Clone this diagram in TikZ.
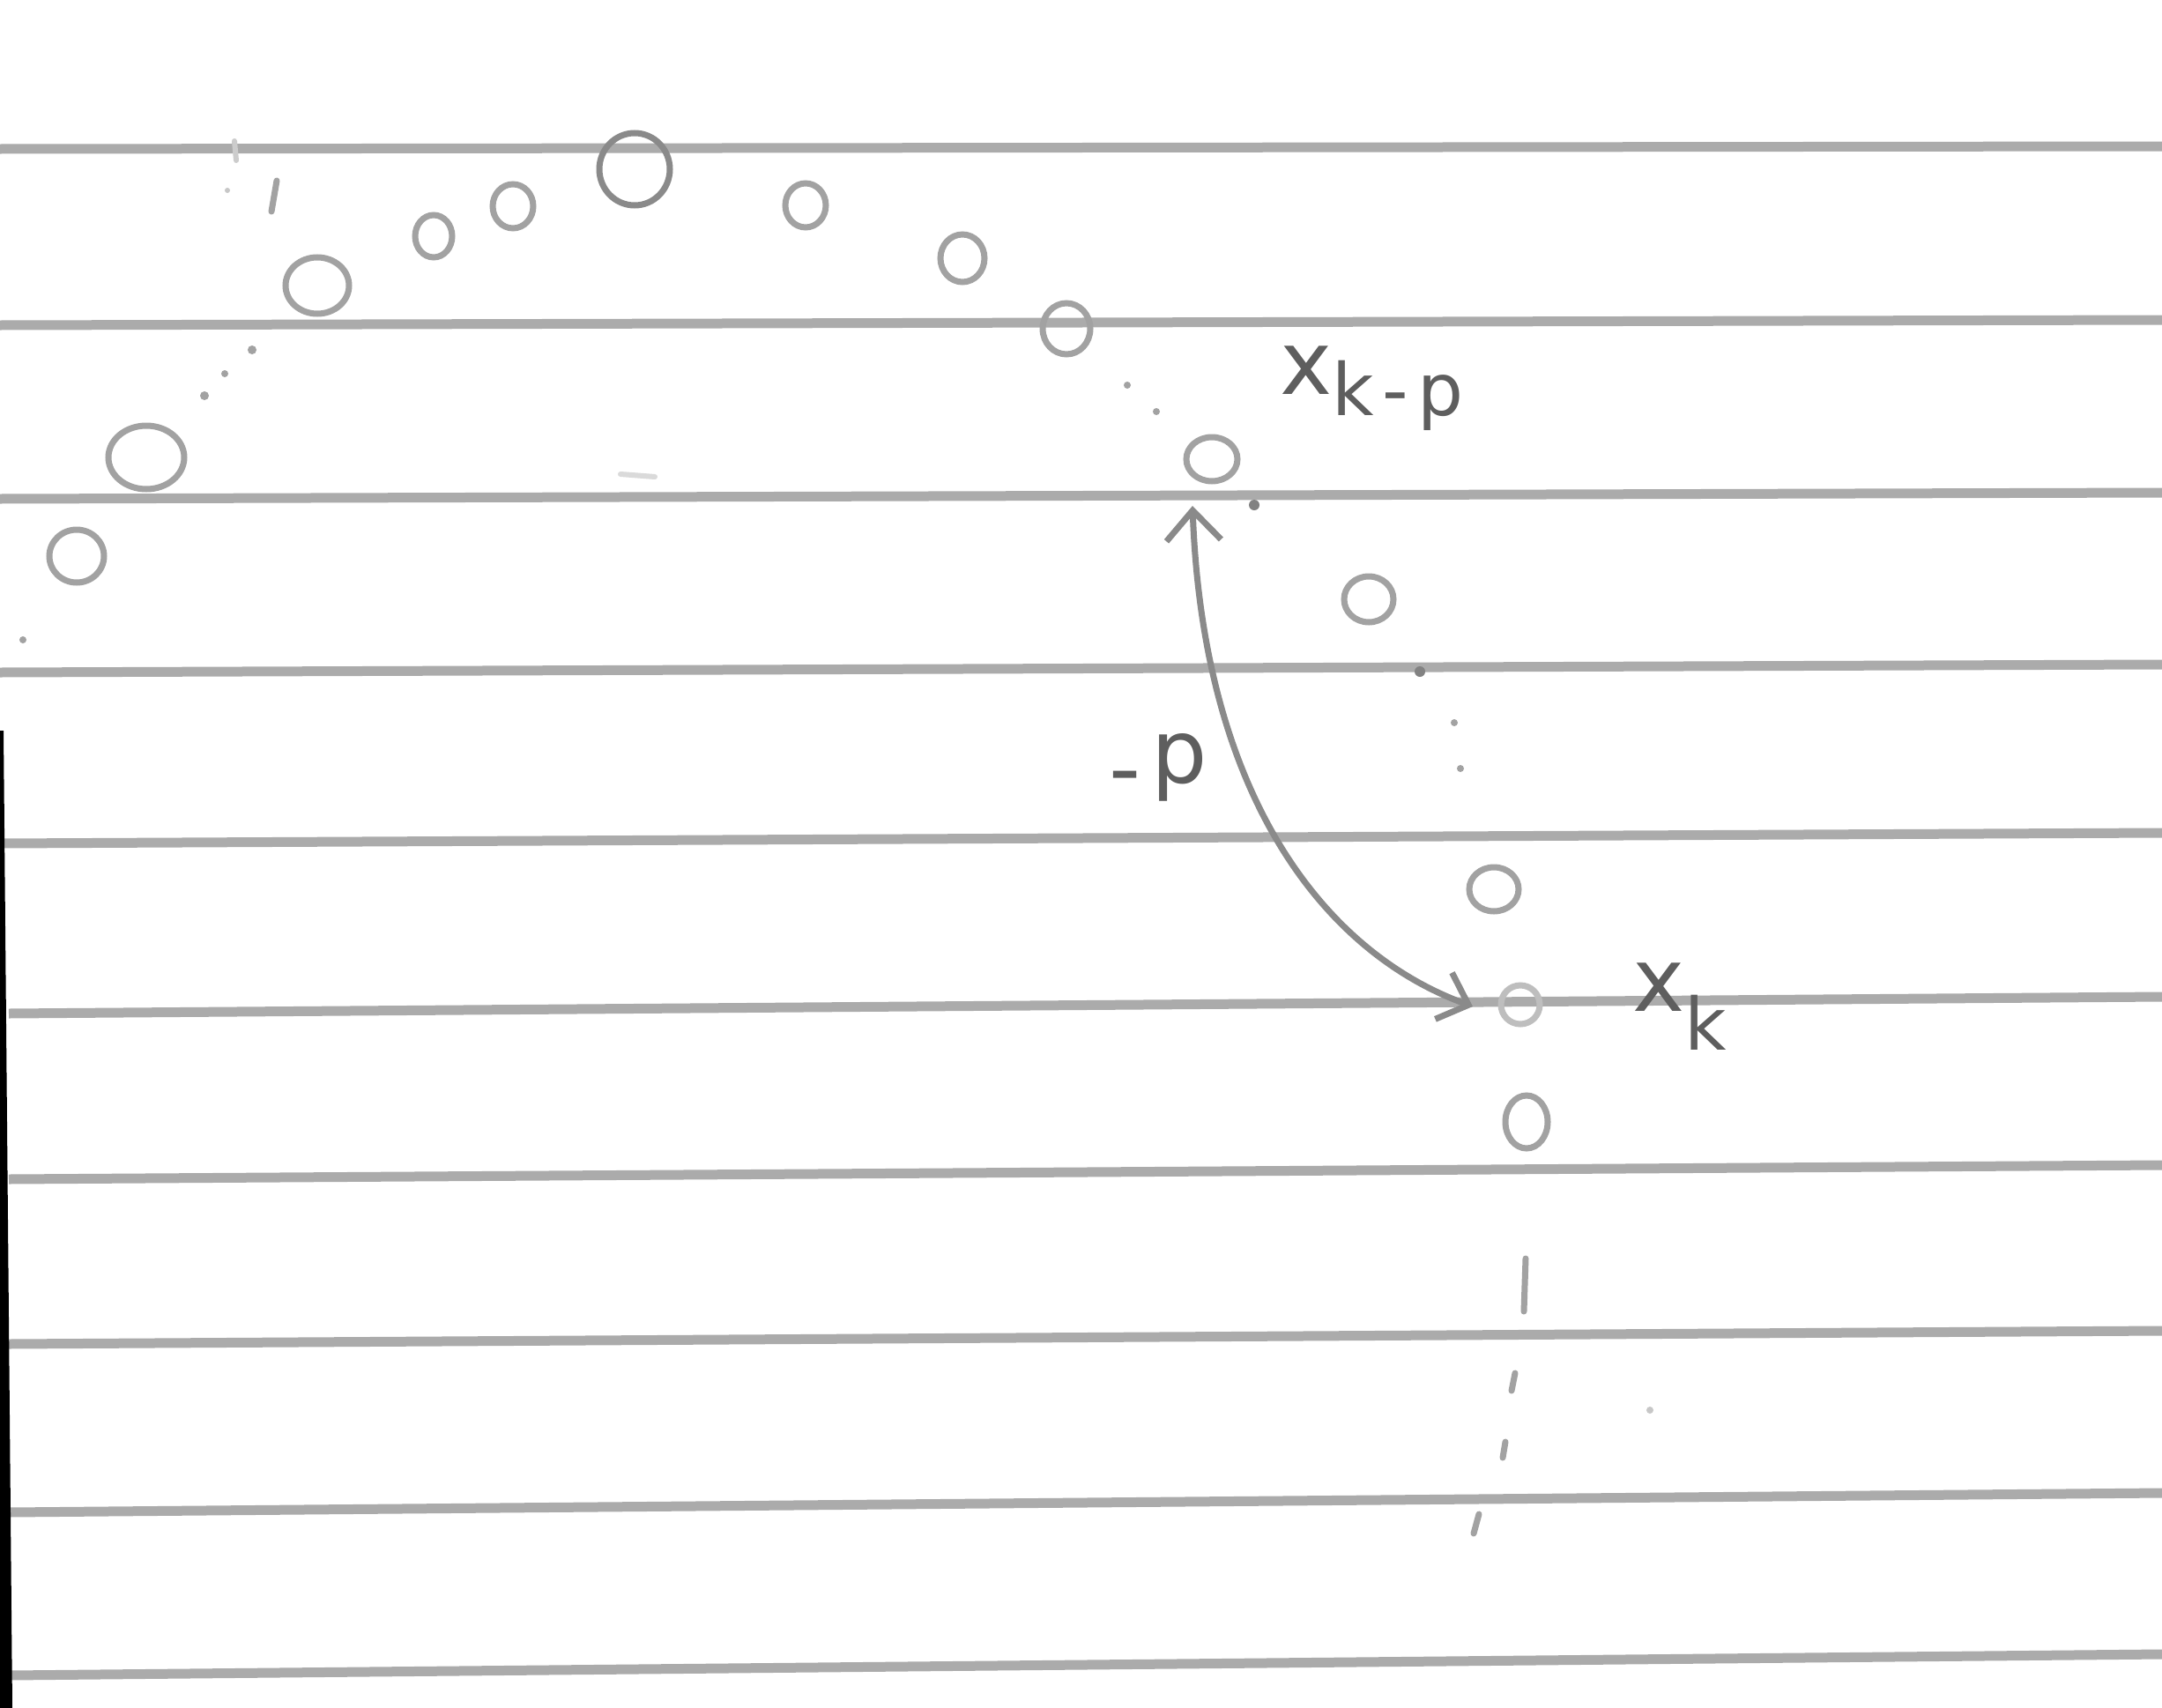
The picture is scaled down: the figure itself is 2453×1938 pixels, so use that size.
\documentclass[tikz,border=0pt]{standalone}
\usepackage{fontspec}
\newfontfamily\handfont{DejaVu Sans}
\usetikzlibrary{arrows.meta,shapes.geometric}
\definecolor{rulec}{HTML}{ABABAB}
\definecolor{pencil}{HTML}{A2A2A2}
\definecolor{lead}{HTML}{5E5E5E}
\begin{document}
\begin{tikzpicture}[x=1pt,y=-1pt,
  rule/.style={draw=rulec, line width=11pt},
  ring/.style={draw=pencil, line width=7pt, ellipse, inner sep=0pt},
  speck/.style={draw=pencil, line width=7pt, line cap=round},
  dotmark/.style={fill=pencil},
  faint/.style={draw=pencil!55, line width=6pt, line cap=round},
  lbl/.style={text=lead, font=\handfont\fontsize{100}{110}\selectfont, inner sep=0pt},
  arcline/.style={draw=pencil!85!black, line width=7pt,
    {Straight Barb[length=34pt,width=62pt]}-{Straight Barb[length=30pt,width=56pt]}}]

\fill[white] (0,0) rectangle (2453,1938);
\useasboundingbox (0,0) rectangle (2453,1938);

% ruled lines of the paper
\draw[rule] (0,169) -- (2453,166);
\draw[rule] (0,369) -- (2453,363);
\draw[rule] (0,566) -- (2453,559);
\draw[rule] (0,763) -- (2453,754);
\draw[rule] (0,957) -- (2453,945);
\draw[rule] (10,1150) -- (2453,1131);
\draw[rule] (10,1338) -- (2453,1322);
\draw[rule] (10,1525) -- (2453,1510);
\draw[rule] (10,1716) -- (2453,1694);
\draw[rule] (10,1901) -- (2453,1877);

% dark scanner edge on the left
\fill[black] (0,829) -- (4,829) -- (14,1938) -- (0,1938) -- cycle;

% circles (samples)
\node[ring, minimum width=62pt, minimum height=60pt] (c1) at (87,631) {};
\node[ring, minimum width=86pt, minimum height=72pt] (c2) at (166,519) {};
\node[ring, minimum width=72pt, minimum height=64pt] (c3) at (360,324) {};
\node[ring, minimum width=42pt, minimum height=48pt] (c4) at (492,268) {};
\node[ring, minimum width=46pt, minimum height=50pt] (c5) at (582,234) {};
\node[ring, minimum width=80pt, minimum height=82pt, draw=pencil!85!black] (c6) at (720,192) {};
\node[ring, minimum width=46pt, minimum height=50pt] (c7) at (914,233) {};
\node[ring, minimum width=50pt, minimum height=54pt] (c8) at (1092,293) {};
\node[ring, minimum width=54pt, minimum height=58pt] (c9) at (1210,373) {};
\node[ring, minimum width=58pt, minimum height=50pt] (c10) at (1375,521) {};
\node[ring, minimum width=56pt, minimum height=52pt] (c11) at (1553,680) {};
\node[ring, minimum width=56pt, minimum height=50pt] (c12) at (1695,1009) {};
\node[ring, minimum width=44pt, minimum height=44pt, draw=pencil!70] (c13) at (1725,1140) {};
\node[ring, minimum width=48pt, minimum height=60pt] (c14) at (1732,1273) {};

% small pencil marks
\draw[speck] (314,205) -- (308,240);
\draw[faint] (266,160) -- (268,182);
\fill[pencil!60] (258,216) circle (3);
\fill[dotmark] (286,397) circle (5);
\fill[dotmark] (255,424) circle (4);
\fill[dotmark] (232,449) circle (5);
\fill[dotmark] (26,726) circle (4);
\draw[faint, draw=pencil!40] (704,538) -- (743,541);
\fill[dotmark] (1279,437) circle (4);
\fill[dotmark] (1312,467) circle (4);
\fill[pencil!80!black] (1423,573) circle (6);
\fill[pencil!80!black] (1611,762) circle (6);
\fill[dotmark] (1650,820) circle (4);
\fill[dotmark] (1657,872) circle (4);
\draw[speck] (1731,1428) -- (1729,1488);
\draw[speck] (1719,1558) -- (1715,1578);
\draw[speck] (1708,1636) -- (1705,1654);
\draw[speck] (1678,1718) -- (1672,1740);
\fill[pencil!60] (1872,1600) circle (4);

% labels
\node[lbl, anchor=base west] (xkp) at (1452,447)
  {x\raisebox{-24pt}{\fontsize{82}{90}\selectfont k\kern10pt-\kern10pt p}};
\node[lbl, anchor=base west] (xk) at (1852,1147)
  {x\raisebox{-44pt}{\fontsize{82}{90}\selectfont k}};
\node[lbl, anchor=base west] (mp) at (1258,888) {\raisebox{-18pt}{-}\kern12pt p};

% double-headed lag arc
\coordinate (tipA) at (1353,574);
\coordinate (tipB) at (1671,1142);
\draw[arcline] (tipA) .. controls (1365,900) and (1500,1080) .. (tipB);
\end{tikzpicture}
\end{document}
